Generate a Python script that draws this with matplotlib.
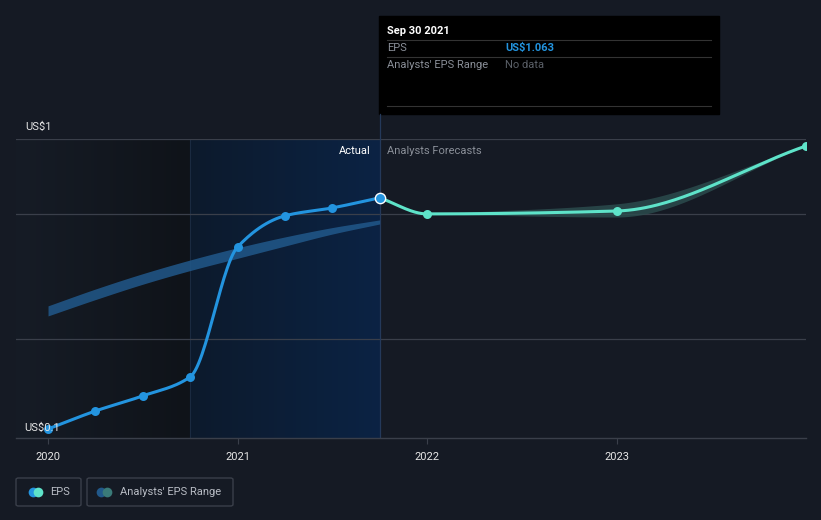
import numpy as np
import matplotlib
matplotlib.use("Agg")
import matplotlib.pyplot as plt
from matplotlib.patches import FancyBboxPatch, Rectangle
from matplotlib.lines import Line2D

plt.rcParams['font.family'] = ['Roboto', 'DejaVu Sans']

# --- data (dates as decimal years) ---
eps_dates = [2020.0, 2020.25, 2020.5, 2020.75, 2021.0, 2021.25, 2021.5, 2021.75]
eps_values = [0.100, 0.175, 0.238, 0.317, 0.858, 0.988, 1.021, 1.063]

fc_dates = [2021.75, 2022.0, 2023.0, 2024.0]
fc_values = [1.063, 0.996, 1.008, 1.279]

hist_range_dates = [2020.0, 2020.25, 2020.5, 2020.75, 2021.0, 2021.25, 2021.5, 2021.75]
hist_range_high = [0.613, 0.683, 0.747, 0.804, 0.855, 0.900, 0.939, 0.971]
hist_range_low = [0.571, 0.639, 0.703, 0.760, 0.811, 0.862, 0.912, 0.954]

fc_range_dates = [2022.0, 2023.0, 2024.0]
fc_range_high = [0.996, 1.038, 1.279]
fc_range_low = [0.996, 0.983, 1.279]

year_ticks = [2020, 2021, 2022, 2023]
grid_values = [0.475, 0.996, 1.308]

BG = '#151a24'
BLUE = '#2394df'
AQUA = '#5ee3c9'


def smooth(x, y, n=200):
    # monotone cubic (Fritsch-Carlson) curve through the points
    x = np.asarray(x, float)
    y = np.asarray(y, float)
    h = np.diff(x)
    d = np.diff(y) / h
    m = np.zeros_like(y)
    m[0], m[-1] = d[0], d[-1]
    for i in range(1, len(y) - 1):
        if d[i - 1] * d[i] <= 0:
            m[i] = 0
        else:
            w1 = 2 * h[i] + h[i - 1]
            w2 = h[i] + 2 * h[i - 1]
            m[i] = (w1 + w2) / (w1 / d[i - 1] + w2 / d[i])
    xs, ys = [], []
    for i in range(len(x) - 1):
        t = np.linspace(0, 1, n // (len(x) - 1), endpoint=(i == len(x) - 2))
        h00 = 2 * t**3 - 3 * t**2 + 1
        h10 = t**3 - 2 * t**2 + t
        h01 = -2 * t**3 + 3 * t**2
        h11 = t**3 - t**2
        xs.append(x[i] + t * h[i])
        ys.append(h00 * y[i] + h10 * h[i] * m[i] + h01 * y[i + 1] + h11 * h[i] * m[i + 1])
    return np.concatenate(xs), np.concatenate(ys)


fig = plt.figure(figsize=(8.21, 5.20), dpi=100)
fig.patch.set_facecolor(BG)
ax = fig.add_axes([16 / 821, 1 - 438 / 520, 790 / 821, 299 / 520])
ax.set_facecolor(BG)

x0, x1 = 2019.831, 2024.0
y0, y1 = 0.0625, 1.308

# shaded past / last-year regions
g = np.linspace(0, 1, 256).reshape(1, -1)
dark = matplotlib.colors.LinearSegmentedColormap.from_list('d', ['#161c26', '#0f1319'])
blue = matplotlib.colors.LinearSegmentedColormap.from_list('b', ['#0d1a2c', '#0b2344'])
ax.imshow(g, cmap=dark, extent=[x0, 2020.75, y0, y1], aspect='auto', zorder=0)
ax.imshow(g, cmap=blue, extent=[2020.75, 2021.75, y0, y1], aspect='auto', zorder=0)
ax.axvline(2020.75, color='#1a2a40', lw=0.8, zorder=1)
ax.set_xlim(x0, x1)
ax.set_ylim(y0, y1)

for gv in grid_values:
    ax.axhline(gv, color='#3a3f4a', lw=0.9, zorder=1)

# analyst ranges
hx, hh = smooth(hist_range_dates, hist_range_high)
_, hl = smooth(hist_range_dates, hist_range_low)
ax.fill_between(hx, hl, hh, color='#21588a', alpha=0.85, lw=0, zorder=2)
fx, fh = smooth(fc_range_dates, fc_range_high)
_, fl = smooth(fc_range_dates, fc_range_low)
ax.fill_between(fx, fl, fh, color='#2c4e4f', alpha=0.8, lw=0, zorder=2)

# EPS lines
ex, ey = smooth(eps_dates, eps_values)
ax.plot(ex, ey, color=BLUE, lw=2.2, zorder=4, solid_capstyle='round')
ax.scatter(eps_dates[:-1], eps_values[:-1], s=42, color=BLUE, zorder=5, lw=0)
cx, cy = smooth(fc_dates, fc_values)
ax.plot(cx, cy, color=AQUA, lw=2.2, zorder=3, solid_capstyle='round')
ax.scatter(fc_dates[1:], fc_values[1:], s=42, color=AQUA, zorder=5, lw=0, clip_on=True)
ax.scatter([eps_dates[-1]], [eps_values[-1]], s=55, color=BLUE, edgecolor='white', lw=1.0, zorder=6)

# tooltip guide line
ax.axvline(2021.75, color='#24395a', lw=0.9, zorder=1)
fig.add_artist(Line2D([379.5 / 821] * 2, [1 - 139 / 520, 1 - 114 / 520], color='#24395a', lw=0.9))

# axes styling
for s in ['top', 'right', 'left']:
    ax.spines[s].set_visible(False)
ax.spines['bottom'].set_color('#3a3f4a')
ax.spines['bottom'].set_linewidth(1.0)
ax.set_yticks([])
ax.set_xticks(year_ticks)
ax.set_xticklabels([str(y) for y in year_ticks], color='#e6e6e6', fontsize=8)
ax.tick_params(axis='x', length=4, color='#3a3f4a', pad=6)

fig.text(25 / 821, 1 - 127 / 520, 'US$1', color='#e6e6e6', fontsize=8, va='center', ha='left')
fig.text(24 / 821, 1 - 428 / 520, 'US$0.1', color='#e6e6e6', fontsize=8, va='center', ha='left', zorder=3)
fig.text(371 / 821, 1 - 151 / 520, 'Actual', color='#ffffff', fontsize=8, va='center', ha='right')
fig.text(387 / 821, 1 - 151 / 520, 'Analysts Forecasts', color='#8a8f98', fontsize=8, va='center', ha='left')

# tooltip
fig.add_artist(Rectangle((379 / 821, 1 - 114 / 520), 340 / 821, 98 / 520, color='black', transform=fig.transFigure))
for yy in [40, 57, 106]:
    fig.add_artist(Line2D([387 / 821, 711 / 821], [1 - yy / 520] * 2, color='#333333', lw=0.8))
fig.text(387 / 821, 1 - 31 / 520, 'Sep 30 2021', color='white', fontsize=8, weight='bold', va='center')
fig.text(387 / 821, 1 - 48 / 520, 'EPS', color='#8a8f98', fontsize=8, va='center')
fig.text(505 / 821, 1 - 48 / 520, 'US$1.063', color=BLUE, fontsize=8, weight='bold', va='center')
fig.text(387 / 821, 1 - 65 / 520, "Analysts' EPS Range", color='#8a8f98', fontsize=8, va='center')
fig.text(505 / 821, 1 - 65 / 520, 'No data', color='#5b6068', fontsize=8, va='center')

# legend
for (lx, lw_) in [(16, 65), (87, 146)]:
    fig.add_artist(FancyBboxPatch((lx / 821, 1 - 506 / 520), lw_ / 821, 28 / 520,
                                  boxstyle='round,pad=0,rounding_size=0.003', fc='none',
                                  ec='#3a3f4a', lw=1.0, transform=fig.transFigure))
ly = 1 - 492 / 520
fig.add_artist(Line2D([33 / 821], [ly], marker='o', ms=7, color=BLUE, mew=0))
fig.add_artist(Line2D([38 / 821], [ly], marker='o', ms=7, color=AQUA, mew=0))
fig.add_artist(Line2D([101 / 821], [ly], marker='o', ms=7, color='#21588a', mew=0))
fig.add_artist(Line2D([107 / 821], [ly], marker='o', ms=7, color='#3a7a78', mew=0))
fig.text(50 / 821, ly, 'EPS', color='#b8bcc4', fontsize=8, va='center')
fig.text(120 / 821, ly, "Analysts' EPS Range", color='#b8bcc4', fontsize=8, va='center')

fig.savefig('out.png', dpi=100, facecolor=BG)
